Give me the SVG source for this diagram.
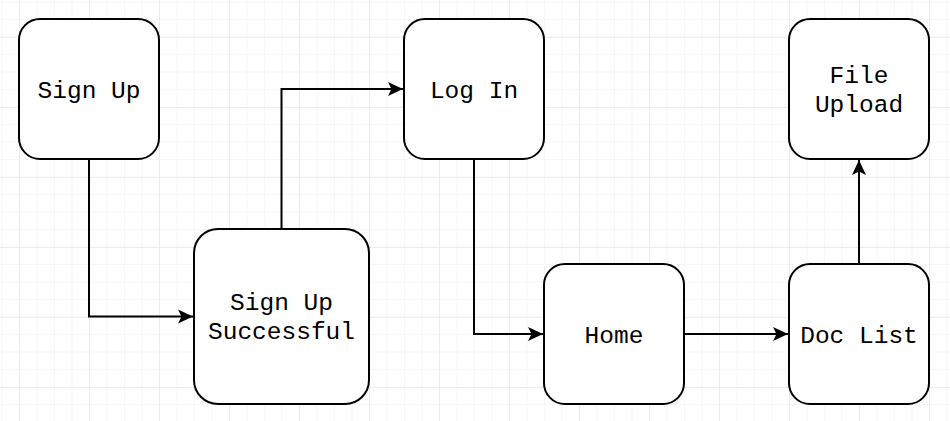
<svg xmlns="http://www.w3.org/2000/svg" width="950" height="421" viewBox="0 0 950 421">
  <defs>
    <pattern id="minor" patternUnits="userSpaceOnUse" x="1.5" y="1.5" width="17.5" height="17.5">
      <path d="M0,0 V17.5 M0,0 H17.5" fill="none" stroke="#f0f0f0" stroke-width="1"/>
    </pattern>
    <pattern id="major" patternUnits="userSpaceOnUse" x="19" y="37" width="70" height="70">
      <path d="M0,0 V70 M0,0 H70" fill="none" stroke="#e2e2e2" stroke-width="1"/>
    </pattern>
    <marker id="arrow" viewBox="-16 -8 17 16" markerWidth="17" markerHeight="16" refX="0" refY="0" orient="auto" markerUnits="userSpaceOnUse">
      <path d="M0,0 L-15,-7 L-11.5,0 L-15,7 Z" fill="#000"/>
    </marker>
    <style>
      .node rect { fill: #ffffff; stroke: #000000; stroke-width: 2; }
      .node text { font-family: "Liberation Mono", "Courier New", monospace; font-size: 24.5px; fill: #000000; text-anchor: middle; }
      .edge { fill: none; stroke: #000000; stroke-width: 2; marker-end: url(#arrow); }
    </style>
  </defs>
  <rect width="950" height="421" fill="#ffffff"/>
  <rect width="950" height="421" fill="url(#minor)"/>
  <rect width="950" height="421" fill="url(#major)"/>

  <g id="connectors">
    <path class="edge" d="M89,159 V316.5 H193"/>
    <path class="edge" d="M281.5,229 V89 H403"/>
    <path class="edge" d="M474,159 V334 H543"/>
    <path class="edge" d="M684,334 H788"/>
    <path class="edge" d="M859,264 V160"/>
  </g>

  <g id="signup" class="node">
    <rect x="19" y="19" width="140" height="140" rx="21" ry="21"/>
    <text x="89" y="97.5">Sign Up</text>
  </g>
  <g id="signup-successful" class="node">
    <rect x="194" y="229" width="175" height="175" rx="24" ry="24"/>
    <text x="281.5" y="310">Sign Up</text>
    <text x="281.5" y="339">Successful</text>
  </g>
  <g id="login" class="node">
    <rect x="404" y="19" width="140" height="140" rx="21" ry="21"/>
    <text x="474" y="97.5">Log In</text>
  </g>
  <g id="home" class="node">
    <rect x="544" y="264" width="140" height="140" rx="21" ry="21"/>
    <text x="614" y="342.5">Home</text>
  </g>
  <g id="doclist" class="node">
    <rect x="789" y="264" width="140" height="140" rx="21" ry="21"/>
    <text x="859" y="342.5">Doc List</text>
  </g>
  <g id="fileupload" class="node">
    <rect x="789" y="19" width="140" height="140" rx="21" ry="21"/>
    <text x="859" y="83">File</text>
    <text x="859" y="112">Upload</text>
  </g>
</svg>
